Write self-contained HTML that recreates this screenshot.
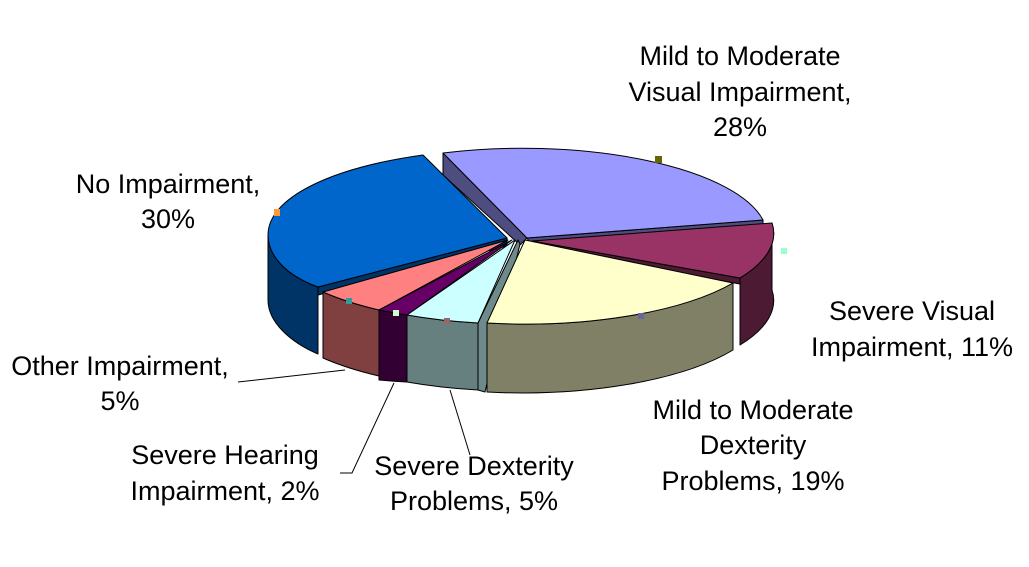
<!DOCTYPE html>
<html><head><meta charset="utf-8"><style>
html,body{margin:0;padding:0;background:#fff;}
svg text{font-family:"Liberation Sans",Arial,sans-serif;font-size:27px;fill:#000;text-anchor:middle;}
</style></head><body>
<svg width="1029" height="562" viewBox="0 0 1029 562" xmlns="http://www.w3.org/2000/svg">
<g stroke="#000" stroke-width="1" stroke-linejoin="round">
<!-- lavender -->
<path d="M443,153 L443,175 L520,245 L527,238 Z" fill="#4d4d80"/>
<path d="M527,238 L763,220 L763,225 L530,243 Z" fill="#4d4d80"/>
<path d="M527,238 L443,153 A245,88 0 0 1 763,220 Z" fill="#9999ff"/>
<!-- blue -->
<path d="M318,287 L318,354 C290,342 268,322 268,300 L268,235 C268,255 285,275 318,287 Z" fill="#003366"/>
<path d="M318,287 L507,238 L507,246 L318,295 Z" fill="#003366"/>
<path d="M507,238 L423,155 C330,168 268,198 268,235 C268,255 285,275 318,287 Z" fill="#0066cc"/>
<!-- maroon -->
<path d="M772,223 L772,290 A245,88 0 0 1 740,345 L740,278 A245,88 0 0 0 772,223 Z" fill="#4d1a33"/>
<path d="M532,241 L740,278 L740,284 L532,247 Z" fill="#4d1a33"/>
<path d="M532,241 L772,223 A245,88 0 0 1 740,278 Z" fill="#993366"/>
<!-- pink -->
<path d="M379,310 L379,376 A245,88 0 0 1 323,358 L323,292 A245,88 0 0 0 379,310 Z" fill="#804040"/>
<path d="M508,240 L379,310 A245,88 0 0 1 323,292 Z" fill="#ff8080"/>
<!-- purple -->
<path d="M407,315 L407,382 A245,88 0 0 1 379,380 L379,310 A245,88 0 0 0 407,315 Z" fill="#330033"/>
<path d="M512,240 L407,315 A245,88 0 0 1 379,310 Z" fill="#660066"/>
<!-- cyan -->
<path d="M478,323 L518,240 L520,244 L485,392 L478,390 Z" fill="#6f8a8a"/>
<path d="M478,323 L478,390 A245,88 0 0 1 407,382 L407,315 A245,88 0 0 0 478,323 Z" fill="#668080"/>
<path d="M515,240 L478,323 A245,88 0 0 1 407,315 Z" fill="#ccffff"/>
<!-- yellow -->
<path d="M733,283 L733,350 A245,88 0 0 1 487,392 L487,323 A245,88 0 0 0 733,283 Z" fill="#808066"/>
<path d="M525,240 L733,283 A245,88 0 0 1 487,323 Z" fill="#ffffcc"/>
</g>
<g stroke="#000" stroke-width="1" fill="none">
<polyline points="238,382 345,370"/>
<polyline points="340,473 352,473 394,383"/>
<polyline points="470,455 450,390"/>
</g>
<g stroke="none">
<rect x="655" y="156" width="7" height="7" fill="#666600"/>
<rect x="274" y="209" width="6" height="7" fill="#ff9933"/>
<rect x="781" y="248" width="6" height="6" fill="#99ffcc"/>
<rect x="638" y="313" width="6" height="6" fill="#666699"/>
<rect x="346" y="298" width="6" height="6" fill="#339999"/>
<rect x="393" y="310" width="6" height="6" fill="#ccffcc"/>
<rect x="444" y="318" width="6" height="6" fill="#996666"/>
</g>
<text x="740" y="65">Mild to Moderate</text>
<text x="740" y="101">Visual Impairment,</text>
<text x="740" y="136">28%</text>
<text x="168" y="193">No Impairment,</text>
<text x="168" y="228">30%</text>
<text x="912" y="320">Severe Visual</text>
<text x="912" y="356">Impairment, 11%</text>
<text x="753" y="419">Mild to Moderate</text>
<text x="753" y="454">Dexterity</text>
<text x="753" y="490">Problems, 19%</text>
<text x="474" y="475">Severe Dexterity</text>
<text x="474" y="510">Problems, 5%</text>
<text x="225" y="464">Severe Hearing</text>
<text x="225" y="500">Impairment, 2%</text>
<text x="120" y="375">Other Impairment,</text>
<text x="120" y="410">5%</text>
</svg>
</body></html>
